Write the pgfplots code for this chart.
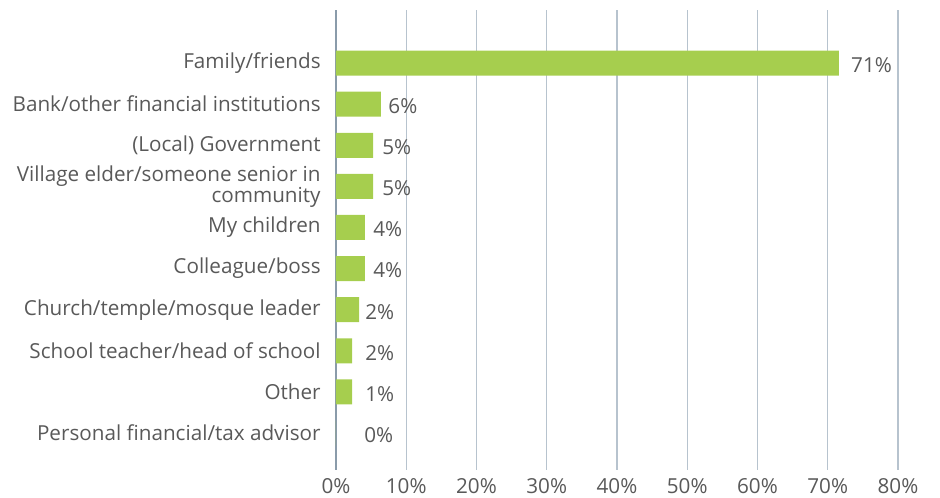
\documentclass[border=0pt]{standalone}
\usepackage{fontspec}
\setmainfont{Open Sans}
\usepackage{pgfplots}
\pgfplotsset{compat=1.18}
\definecolor{bargreen}{HTML}{A6CE4E}
\definecolor{txt}{HTML}{595959}
\definecolor{gridc}{HTML}{B7C3CE}
\definecolor{axisc}{HTML}{8A9BAA}
\newcommand{\lblfont}{\fontsize{15.5}{16}\selectfont}

\begin{document}
\begin{tikzpicture}
  \begin{axis}[
    name=ax,
    scale only axis,
    width=421.5pt, height=345pt,
    xmin=0, xmax=80,
    ymin=-1.29, ymax=9.9, y dir=reverse,
    xtick={0,10,...,80},
    xticklabel={\pgfmathprintnumber{\tick}\%},
    /pgf/number format/assume math mode=true,
    ytick={0,...,9},
    yticklabels={Family/friends, Bank/other financial institutions,
      (Local) Government, {Village elder/someone senior in\\community},
      My children, Colleague/boss, Church/temple/mosque leader,
      School teacher/head of school, Other, Personal financial/tax advisor},
    axis line style={draw=none},
    major tick length=0pt,
    xmajorgrids,
    grid style={draw=gridc, line width=1.1pt},
    extra x ticks={0},
    extra x tick labels={},
    extra x tick style={grid style={draw=axisc, line width=2pt}},
    tick label style={font=\lblfont, text=txt},
    yticklabel style={align=right, xshift=-8pt},
    xticklabel style={yshift=-3pt},
  ]
    \addplot[xbar, fill=bargreen, draw=none, bar width=18.75pt]
      coordinates {(71.6,0) (6.4,1) (5.3,2) (5.3,3) (4.1,4) (4.1,5)
                   (3.3,6) (2.3,7) (2.3,8) (0,9)};
    \addplot[draw=none, mark=none, point meta=explicit symbolic,
      nodes near coords,
      nodes near coords style={anchor=base west, inner sep=0pt,
        yshift=-7pt, font=\lblfont, text=txt}]
      coordinates {(73.3,0) [71\%] (7.43,1) [6\%] (6.57,2) [5\%]
                   (6.57,3) [5\%] (5.29,4) [4\%] (5.29,5) [4\%]
                   (4.14,6) [2\%] (4.14,7) [2\%] (4.14,8) [1\%]
                   (4.0,9) [0\%]};
  \end{axis}
  \pgfresetboundingbox
  \path ([shift={(-252pt,-20.25pt)}]ax.south west) rectangle ++(705pt,372.75pt);
\end{tikzpicture}
\end{document}
